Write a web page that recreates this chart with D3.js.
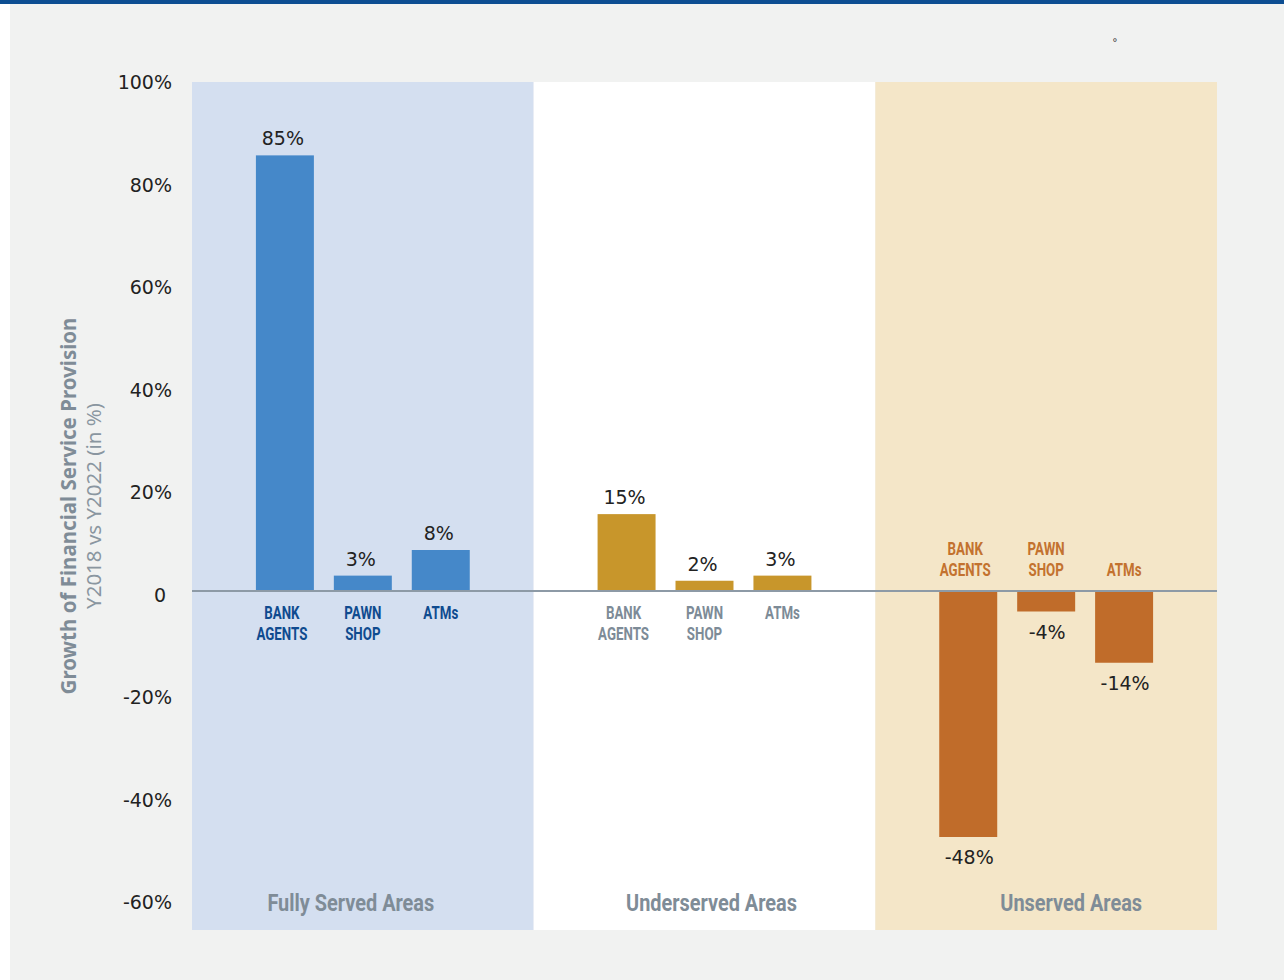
<!DOCTYPE html>
<html>
<head>
<meta charset="utf-8">
<script src="https://cdn.jsdelivr.net/npm/d3@7"></script>
<style>
  html, body { margin: 0; padding: 0; background: #ffffff; }
  svg { display: block; }
</style>
</head>
<body>
<svg id="chart" width="1284" height="980"></svg>
<script>
// ---- data ----
const groups = ["Fully Served Areas", "Underserved Areas", "Unserved Areas"];
const categories = ["BANK AGENTS", "PAWN SHOP", "ATMs"];
const categoryLines = [["BANK", "AGENTS"], ["PAWN", "SHOP"], ["ATMs"]];
const fullyServed = [85, 3, 8];
const underserved = [15, 2, 3];
const unserved = [-48, -4, -14];
const yTicks = [100, 80, 60, 40, 20, 0, -20, -40, -60];

const seriesByGroup = [fullyServed, underserved, unserved];
const panelFill = ["#d4dff0", "#ffffff", "#f4e6c8"];
const barFill = ["#4588c9", "#c8962b", "#c06c2a"];
const catColor = ["#0f4b8f", "#7d8b97", "#c3722f"];
const groupLabelShift = [-12, 7, 25];

const svg = d3.select("#chart");
const W = 1284, H = 980;
const narrowFont = "Roboto, 'Noto Sans', sans-serif";
const numFont = "'DejaVu Sans', sans-serif";

// background
svg.append("rect").attr("width", W).attr("height", H).attr("fill", "#f1f2f1");
svg.append("rect").attr("x", 0).attr("y", 0).attr("width", 10).attr("height", H).attr("fill", "#ffffff");
svg.append("rect").attr("x", 0).attr("y", 0).attr("width", W).attr("height", 4).attr("fill", "#0d4e92");

// scales
const y = d3.scaleLinear().domain([0, 100]).range([591, 78.5]);
const outer = d3.scaleBand().domain(groups).range([192, 1217]).padding(0);
const inner = d3.scaleBand().domain(categories).range([0, outer.bandwidth()])
  .paddingInner(0.256).paddingOuter(0.82);

const panelTop = 82, panelBottom = 930;

// panels
svg.append("g").selectAll("rect").data(groups).join("rect")
  .attr("x", d => outer(d))
  .attr("y", panelTop)
  .attr("width", outer.bandwidth())
  .attr("height", panelBottom - panelTop)
  .attr("fill", (d, i) => panelFill[i]);

// bars
const barData = [];
groups.forEach((g, gi) => {
  categories.forEach((c, ci) => {
    barData.push({ g, gi, c, ci, v: seriesByGroup[gi][ci] });
  });
});

svg.append("g").selectAll("rect").data(barData).join("rect")
  .attr("x", d => outer(d.g) + inner(d.c))
  .attr("y", d => y(Math.max(0, d.v)))
  .attr("width", inner.bandwidth())
  .attr("height", d => Math.abs(y(d.v) - y(0)))
  .attr("fill", d => barFill[d.gi]);

// zero line
svg.append("line")
  .attr("x1", 192).attr("x2", 1217)
  .attr("y1", y(0)).attr("y2", y(0))
  .attr("stroke", "#8d9aa6").attr("stroke-width", 2);

// value labels
svg.append("g").selectAll("text").data(barData).join("text")
  .attr("x", d => outer(d.g) + inner(d.c) + inner.bandwidth() / 2 + (d.v < 0 ? 1 : -2))
  .attr("y", d => d.v >= 0 ? y(d.v) - 10 : y(d.v) + 27)
  .attr("text-anchor", "middle")
  .attr("font-family", numFont)
  .attr("font-size", 19)
  .attr("fill", "#222222")
  .text(d => d.v + "%");

// category labels (condensed look via horizontal scale)
const catScale = 0.74;
const catG = svg.append("g")
  .attr("font-family", narrowFont)
  .attr("font-weight", "bold")
  .attr("font-size", 18)
  .attr("text-anchor", "middle");
barData.forEach(d => {
  const lines = categoryLines[d.ci];
  const cx = outer(d.g) + inner(d.c) + inner.bandwidth() / 2 + (d.ci === 0 ? -3 : 0);
  lines.forEach((ln, li) => {
    let yy;
    if (d.gi === 2) {
      yy = y(0) - 15 - (lines.length - 1 - li) * 21;
    } else {
      yy = y(0) + 28 + li * 21;
    }
    catG.append("text")
      .attr("transform", `translate(${cx},${yy}) scale(${catScale},1)`)
      .attr("fill", catColor[d.gi])
      .text(ln);
  });
});

// group labels
svg.append("g").selectAll("text").data(groups).join("text")
  .attr("transform", (d, i) => `translate(${outer(d) + outer.bandwidth() / 2 + groupLabelShift[i]},911) scale(0.83,1)`)
  .attr("text-anchor", "middle")
  .attr("font-family", narrowFont)
  .attr("font-weight", "bold")
  .attr("font-size", 24)
  .attr("fill", "#7f8c97")
  .text(d => d);

// y axis tick labels
const yAxis = d3.axisLeft(y).tickValues(yTicks).tickSize(0)
  .tickFormat(d => d === 0 ? "0" : d + "%");
const ax = svg.append("g").attr("transform", "translate(175,4)").call(yAxis);
ax.select(".domain").remove();
ax.selectAll("text")
  .attr("font-family", numFont)
  .attr("font-size", 19)
  .attr("fill", "#222222")
  .attr("dx", d => d === 0 ? -6 : 0);

// axis titles
svg.append("text")
  .attr("transform", "translate(76,506) rotate(-90)")
  .attr("text-anchor", "middle")
  .attr("font-family", "'Noto Sans', sans-serif")
  .attr("font-weight", "bold")
  .attr("font-size", 20.5)
  .attr("fill", "#7f8c97")
  .text("Growth of Financial Service Provision");
svg.append("text")
  .attr("transform", "translate(101,506) rotate(-90)")
  .attr("text-anchor", "middle")
  .attr("font-family", "'Noto Sans', sans-serif")
  .attr("font-size", 20.5)
  .attr("fill", "#8a96a0")
  .text("Y2018 vs Y2022 (in %)");

// small mark top right
svg.append("text")
  .attr("x", 1115).attr("y", 46)
  .attr("text-anchor", "middle")
  .attr("font-family", "'Noto Sans', sans-serif")
  .attr("font-size", 10)
  .attr("fill", "#333")
  .text("°");
</script>
</body>
</html>
